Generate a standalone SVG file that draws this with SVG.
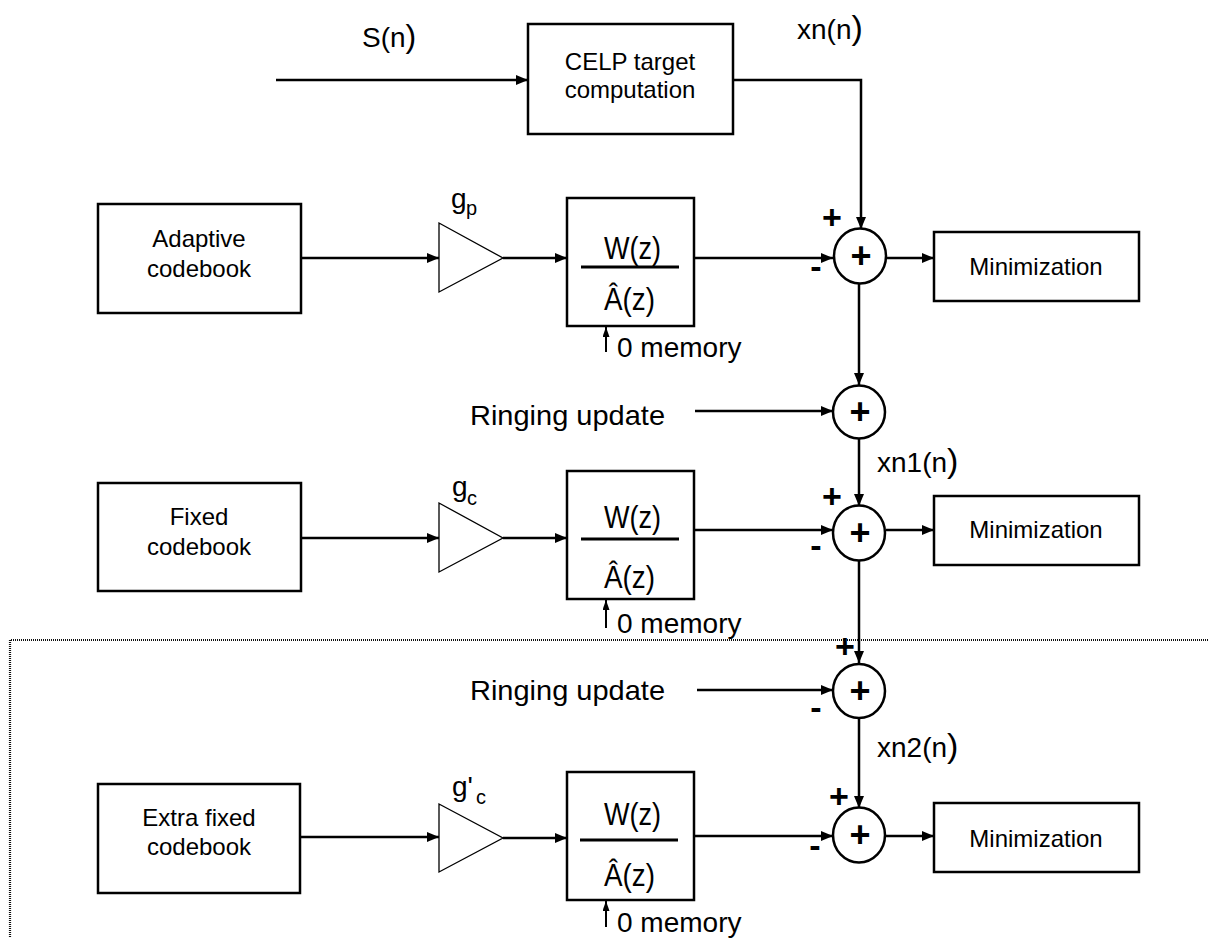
<svg xmlns="http://www.w3.org/2000/svg" width="1208" height="938" viewBox="0 0 1208 938">
  <style>
    .box { fill: #fff; stroke: #000; stroke-width: 2.5; }
    .tri { fill: #fff; stroke: #000; stroke-width: 1.3; }
    .sum { fill: #fff; stroke: #000; stroke-width: 2.5; }
    .wire { fill: none; stroke: #000; stroke-width: 2.5; marker-end: url(#ah); }
    .thin { fill: none; stroke: #000; stroke-width: 2; marker-end: url(#ahs); }
    .frac { stroke: #000; stroke-width: 3; }
    .dot { fill: none; stroke: #111; stroke-width: 2.2; stroke-dasharray: 1 1; }
    text { font-family: "Liberation Sans", Arial, sans-serif; fill: #000; }
    .lbl { font-size: 24px; text-anchor: middle; }
    .big { font-size: 28px; }
    .fn { font-size: 32px; }
    .g { font-size: 28px; }
    .sub { font-size: 20px; }
    .sign { font-size: 34px; font-weight: bold; text-anchor: middle; }
    .plus { font-size: 36px; font-weight: bold; text-anchor: middle; }
  </style>
  <defs>
    <marker id="ah" markerUnits="userSpaceOnUse" viewBox="0 0 12 10" refX="12" refY="5" markerWidth="12" markerHeight="10" orient="auto">
      <path d="M0,0 L12,5 L0,10 z" fill="#000"/>
    </marker>
    <marker id="ahs" markerUnits="userSpaceOnUse" viewBox="0 0 10 7" refX="10" refY="3.5" markerWidth="10" markerHeight="7" orient="auto">
      <path d="M0,0 L10,3.5 L0,7 z" fill="#000"/>
    </marker>
  </defs>

  <!-- boundary of the extra stage -->
  <g id="extra-stage-frame">
    <polyline class="dot" points="1208,640 10,640 10,938"/>
  </g>

  <!-- signal labels -->
  <g id="signal-labels">
    <text class="big" x="362" y="47" font-size="25">S(n<tspan font-size="32">)</tspan></text>
    <text class="big" x="797" y="39">xn(n<tspan font-size="34">)</tspan></text>
    <text class="big" x="877" y="472">xn1(n<tspan font-size="34">)</tspan></text>
    <text class="big" x="877" y="757">xn2(n<tspan font-size="34">)</tspan></text>
    <text class="big" x="470" y="425" textLength="195" lengthAdjust="spacingAndGlyphs">Ringing update</text>
    <text class="big" x="470" y="700" textLength="195" lengthAdjust="spacingAndGlyphs">Ringing update</text>
  </g>

  <!-- connectors -->
  <g id="connectors">
    <line class="wire" x1="276" y1="80" x2="528" y2="80"/>
    <polyline class="wire" points="733,80 861,80 861,229"/>
    <!-- stage 1 -->
    <line class="wire" x1="301" y1="258" x2="439" y2="258"/>
    <line class="wire" x1="503" y1="258" x2="567" y2="258"/>
    <line class="wire" x1="694" y1="258" x2="833" y2="258"/>
    <line class="wire" x1="886" y1="258" x2="934" y2="258"/>
    <line class="thin" x1="606" y1="352" x2="606" y2="327"/>
    <!-- error chain -->
    <line class="wire" x1="859" y1="284" x2="859" y2="385"/>
    <line class="wire" x1="695" y1="411" x2="833" y2="411"/>
    <line class="wire" x1="859" y1="439" x2="859" y2="506"/>
    <!-- stage 2 -->
    <line class="wire" x1="301" y1="538" x2="439" y2="538"/>
    <line class="wire" x1="503" y1="538" x2="567" y2="538"/>
    <line class="wire" x1="694" y1="530" x2="833" y2="530"/>
    <line class="wire" x1="886" y1="530" x2="934" y2="530"/>
    <line class="thin" x1="606" y1="628" x2="606" y2="600"/>
    <line class="wire" x1="859" y1="560" x2="859" y2="663"/>
    <line class="wire" x1="697" y1="690" x2="833" y2="690"/>
    <line class="wire" x1="859" y1="718" x2="859" y2="808"/>
    <!-- stage 3 -->
    <line class="wire" x1="300" y1="837" x2="439" y2="837"/>
    <line class="wire" x1="503" y1="838" x2="567" y2="838"/>
    <line class="wire" x1="694" y1="836" x2="833" y2="836"/>
    <line class="wire" x1="886" y1="836" x2="934" y2="836"/>
    <line class="thin" x1="606" y1="927" x2="606" y2="901"/>
  </g>

  <!-- CELP target computation -->
  <g id="celp-target">
    <rect class="box" x="528" y="24" width="205" height="110"/>
    <text class="lbl" x="630" y="70">CELP target</text>
    <text class="lbl" x="630" y="98">computation</text>
  </g>

  <!-- stage 1: adaptive codebook -->
  <g id="adaptive-codebook">
    <rect class="box" x="98" y="204" width="203" height="109"/>
    <text class="lbl" x="199" y="247">Adaptive</text>
    <text class="lbl" x="199" y="277">codebook</text>
  </g>
  <g id="gain-p">
    <polygon class="tri" points="439,223 503,258 439,292"/>
    <text class="g" x="451" y="208">g</text>
    <text class="sub" x="466" y="215">p</text>
  </g>
  <g id="filter-1">
    <rect class="box" x="567" y="198" width="127" height="128"/>
    <text class="fn" x="604" y="259" textLength="57" lengthAdjust="spacingAndGlyphs">W(z)</text>
    <line class="frac" x1="581" y1="267" x2="679" y2="267"/>
    <text class="fn" x="604" y="310" textLength="51" lengthAdjust="spacingAndGlyphs">Â(z)</text>
    <text class="big" x="617" y="357">0 memory</text>
  </g>
  <g id="sum-1">
    <ellipse class="sum" cx="860" cy="256" rx="26" ry="27.5"/>
    <text class="plus" x="861" y="268">+</text>
    <text class="sign" x="832" y="229">+</text>
    <text class="sign" x="816" y="278">-</text>
  </g>
  <g id="minimization-1">
    <rect class="box" x="934" y="232" width="205" height="69"/>
    <text class="lbl" x="1036" y="275">Minimization</text>
  </g>

  <!-- ringing update 1 -->
  <g id="sum-2">
    <ellipse class="sum" cx="859" cy="412" rx="26" ry="26.5"/>
    <text class="plus" x="860" y="424">+</text>
  </g>

  <!-- stage 2: fixed codebook -->
  <g id="fixed-codebook">
    <rect class="box" x="98" y="483" width="203" height="108"/>
    <text class="lbl" x="199" y="525">Fixed</text>
    <text class="lbl" x="199" y="555">codebook</text>
  </g>
  <g id="gain-c">
    <polygon class="tri" points="439,503 503,538 439,572"/>
    <text class="g" x="452" y="496">g</text>
    <text class="sub" x="467" y="505">c</text>
  </g>
  <g id="filter-2">
    <rect class="box" x="567" y="471" width="127" height="128"/>
    <text class="fn" x="604" y="528" textLength="57" lengthAdjust="spacingAndGlyphs">W(z)</text>
    <line class="frac" x1="581" y1="539" x2="679" y2="539"/>
    <text class="fn" x="604" y="588" textLength="51" lengthAdjust="spacingAndGlyphs">Â(z)</text>
    <text class="big" x="617" y="633">0 memory</text>
  </g>
  <g id="sum-3">
    <ellipse class="sum" cx="859" cy="533" rx="26" ry="27.5"/>
    <text class="plus" x="860" y="545">+</text>
    <text class="sign" x="832" y="508">+</text>
    <text class="sign" x="816" y="557">-</text>
  </g>
  <g id="minimization-2">
    <rect class="box" x="934" y="496" width="205" height="69"/>
    <text class="lbl" x="1036" y="538">Minimization</text>
  </g>

  <!-- ringing update 2 -->
  <g id="sum-4">
    <ellipse class="sum" cx="859" cy="691" rx="26" ry="27"/>
    <text class="plus" x="860" y="703">+</text>
    <text class="sign" x="845" y="658">+</text>
    <text class="sign" x="816" y="719">-</text>
  </g>

  <!-- stage 3: extra fixed codebook -->
  <g id="extra-fixed-codebook">
    <rect class="box" x="98" y="784" width="202" height="109"/>
    <text class="lbl" x="199" y="826">Extra fixed</text>
    <text class="lbl" x="199" y="855">codebook</text>
  </g>
  <g id="gain-c-prime">
    <polygon class="tri" points="439,804 503,838 439,872"/>
    <text class="g" x="452" y="796">g'</text>
    <text class="sub" x="476" y="804">c</text>
  </g>
  <g id="filter-3">
    <rect class="box" x="567" y="772" width="127" height="128"/>
    <text class="fn" x="604" y="825" textLength="57" lengthAdjust="spacingAndGlyphs">W(z)</text>
    <line class="frac" x1="580" y1="840" x2="678" y2="840"/>
    <text class="fn" x="604" y="886" textLength="51" lengthAdjust="spacingAndGlyphs">Â(z)</text>
    <text class="big" x="617" y="932">0 memory</text>
  </g>
  <g id="sum-5">
    <ellipse class="sum" cx="859" cy="835" rx="26" ry="27.5"/>
    <text class="plus" x="860" y="847">+</text>
    <text class="sign" x="839" y="808">+</text>
    <text class="sign" x="815" y="857">-</text>
  </g>
  <g id="minimization-3">
    <rect class="box" x="934" y="803" width="205" height="69"/>
    <text class="lbl" x="1036" y="847">Minimization</text>
  </g>
</svg>
